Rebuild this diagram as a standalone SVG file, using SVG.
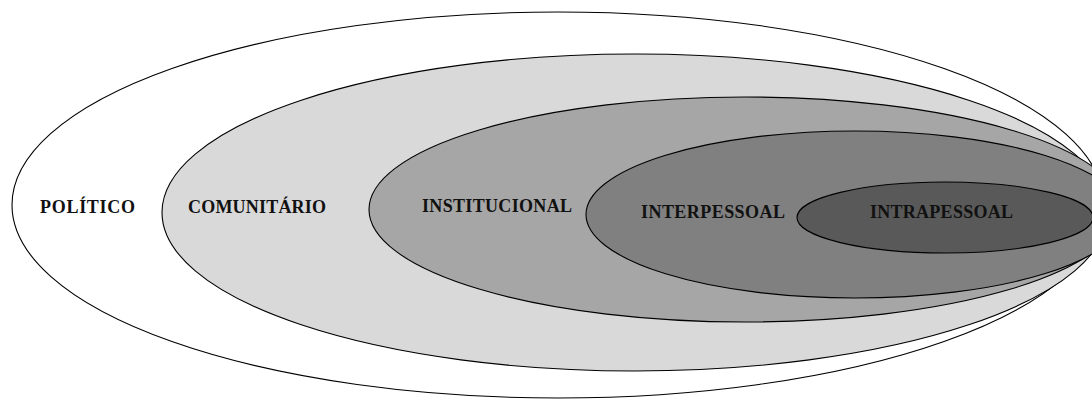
<svg xmlns="http://www.w3.org/2000/svg" width="1092" height="399" viewBox="0 0 1092 399">
<style>
.e{stroke:#000;stroke-width:1.1}
.t{font-family:"Liberation Serif","Times New Roman",serif;font-weight:bold;font-size:18px;fill:#111}
</style>
<rect width="1092" height="399" fill="#fff"/>
<g id="politico">
<ellipse class="e" cx="558" cy="205" rx="546" ry="193" fill="#fff"/>
<text class="t" x="40" y="213" textLength="95">POLÍTICO</text>
</g>
<g id="comunitario">
<ellipse class="e" cx="635" cy="212.5" rx="473" ry="158.5" fill="#d9d9d9"/>
<text class="t" x="188" y="213" textLength="138">COMUNITÁRIO</text>
</g>
<g id="institucional">
<ellipse class="e" cx="745" cy="209.5" rx="376" ry="112.5" fill="#a6a6a6"/>
<text class="t" x="422" y="212" textLength="150">INSTITUCIONAL</text>
</g>
<g id="interpessoal">
<ellipse class="e" cx="855" cy="214.5" rx="269" ry="83.5" fill="#808080"/>
<text class="t" x="641" y="218" textLength="144">INTERPESSOAL</text>
</g>
<g id="intrapessoal">
<ellipse class="e" cx="945" cy="217.5" rx="148" ry="35.5" fill="#595959"/>
<text class="t" x="870" y="218" textLength="143">INTRAPESSOAL</text>
</g>
<g id="connectors"/>
</svg>
